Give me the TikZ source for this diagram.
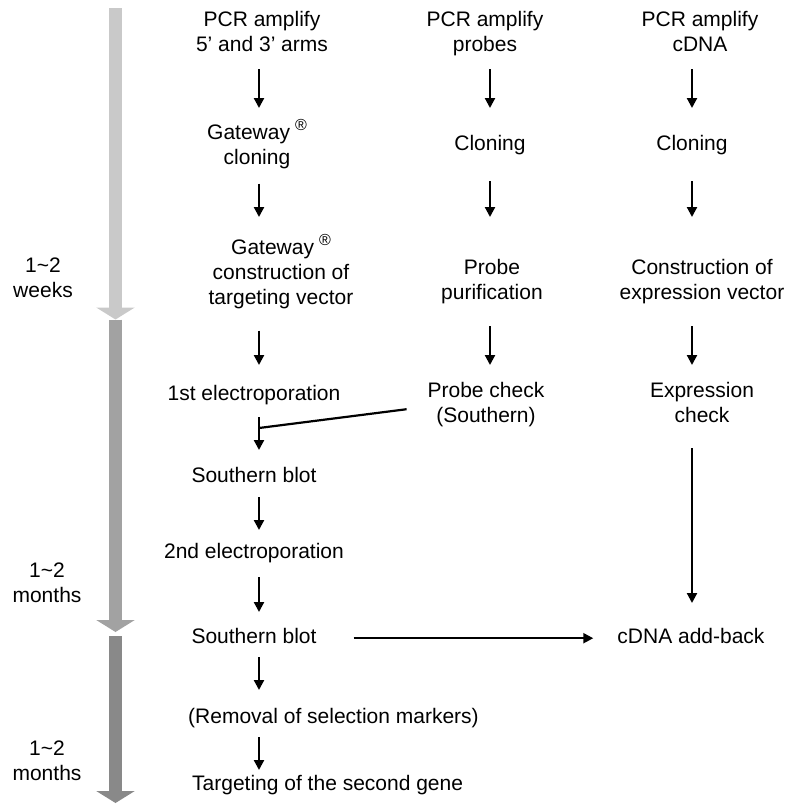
\documentclass[tikz,border=0pt]{standalone}
\usepackage{fontspec}
\setmainfont{Liberation Sans}
\usepackage{tikz}
\usetikzlibrary{arrows.meta,positioning}
\definecolor{clBarA}{HTML}{C9C9C9}
\definecolor{clBarB}{HTML}{A2A2A2}
\definecolor{clBarC}{HTML}{898989}
\newcommand{\regmark}{\kern5pt\raisebox{8.5pt}{\fontsize{16}{16}\selectfont ®}}
\tikzset{
  stepbox/.style={align=center, inner sep=0pt, anchor=north,
                  font=\fontsize{21}{25}\selectfont,
                  execute at begin node=\strut, execute at end node=\strut},
  period/.style={line width=13pt, -{Triangle[length=12pt 0 0, width=38pt 0 0]}},
  flow/.style={line width=2.2pt, -{Triangle[length=10pt 0 0, width=10pt 0 0]}},
  link/.style={line width=2.2pt},
}
\begin{document}
\begin{tikzpicture}[x=1pt, y=-1pt]
  \useasboundingbox (0,0) rectangle (788,804);
  % time line
  \draw[period, draw=clBarA] (115.5,8) -- (115.5,319.5);
  \draw[period, draw=clBarB] (115.5,319.5) -- (115.5,632);
  \draw[period, draw=clBarC] (115.5,636) -- (115.5,803);
  \node[stepbox] (wk) at (43,257.5) {1\textasciitilde 2\\weeks};
  \node[stepbox] (moA) at (47,562.5) {1\textasciitilde 2\\months};
  \node[stepbox] (moB) at (47,740.5) {1\textasciitilde 2\\months};
  % arrow columns
  \coordinate (colA) at (259,0);
  \coordinate (colB) at (490,0);
  \coordinate (colC) at (692,0);
  % targeting
  \node[stepbox] (pcrA) at (262,11.5) {PCR amplify\\5' and 3' arms};
  \node[stepbox] (gwA) at (257,119.5) {Gateway\regmark\\cloning};
  \node[stepbox] (tvA) at (281,234.5) {Gateway\regmark\\construction of\\targeting vector};
  \node[stepbox] (ep1) at (254,382.5) {1st electroporation};
  \node[stepbox] (sb1) at (254,464.5) {Southern blot};
  \node[stepbox] (ep2) at (254,540.5) {2nd electroporation};
  \node[stepbox] (sb2) at (254,625.5) {Southern blot};
  \node[stepbox, anchor=north west] (rm) at (188,705.5) {(Removal of selection markers)};
  \node[stepbox, anchor=north west] (tg) at (192,772.5) {Targeting of the second gene};
  % probes
  \node[stepbox] (pcrB) at (485,11.5) {PCR amplify\\probes};
  \node[stepbox] (clB) at (490,132.5) {Cloning};
  \node[stepbox] (ppB) at (492,259.5) {Probe\\purification};
  \node[stepbox] (pcB) at (486,382.5) {Probe check\\(Southern)};
  % cDNA
  \node[stepbox] (pcrC) at (700,11.5) {PCR amplify\\cDNA};
  \node[stepbox] (clC) at (692,132.5) {Cloning};
  \node[stepbox] (cvC) at (702,259.5) {Construction of\\expression vector};
  \node[stepbox] (exC) at (702,382.5) {Expression\\check};
  \node[stepbox] (cdna) at (691,625.5) {cDNA add-back};

  \draw[flow, shorten <=9.5pt, shorten >=11.5pt] (pcrA.south -| colA) -- (gwA.north -| colA);
  \draw[flow, shorten <=11.5pt, shorten >=17.5pt] (gwA.south -| colA) -- (tvA.north -| colA);
  \draw[flow, shorten <=18.5pt, shorten >=17.5pt] (tvA.south -| colA) -- (ep1.north -| colA);
  \coordinate (jn) at (259,428);
  \draw[flow, shorten <=9.5pt, shorten >=14.5pt] (ep1.south -| colA) -- (sb1.north -| colA);
  \draw[link, shorten <=21pt] (pcB.west) -- (jn);
  \draw[flow, shorten <=7.5pt, shorten >=10.5pt] (sb1.south -| colA) -- (ep2.north -| colA);
  \draw[flow, shorten <=11.5pt, shorten >=13.5pt] (ep2.south -| colA) -- (sb2.north -| colA);
  \draw[flow, shorten <=6.5pt, shorten >=15.5pt] (sb2.south -| colA) -- (rm.north -| colA);
  \draw[flow, shorten <=6.5pt, shorten >=2.5pt] (rm.south -| colA) -- (tg.north -| colA);

  \draw[flow, shorten <=9.5pt, shorten >=24.5pt] (pcrB.south -| colB) -- (clB.north -| colB);
  \draw[flow, shorten <=23.5pt, shorten >=42.5pt] (clB.south -| colB) -- (ppB.north -| colB);
  \draw[flow, shorten <=18.5pt, shorten >=17.5pt] (ppB.south -| colB) -- (pcB.north -| colB);

  \draw[flow, shorten <=9.5pt, shorten >=24.5pt] (pcrC.south -| colC) -- (clC.north -| colC);
  \draw[flow, shorten <=23.5pt, shorten >=42.5pt] (clC.south -| colC) -- (cvC.north -| colC);
  \draw[flow, shorten <=18.5pt, shorten >=17.5pt] (cvC.south -| colC) -- (exC.north -| colC);
  \draw[flow, shorten <=17.5pt, shorten >=22.5pt] (exC.south -| colC) -- (cdna.north -| colC);
  \draw[flow, shorten <=37pt, shorten >=24pt] (sb2.east) -- (cdna.west);
\end{tikzpicture}
\end{document}
